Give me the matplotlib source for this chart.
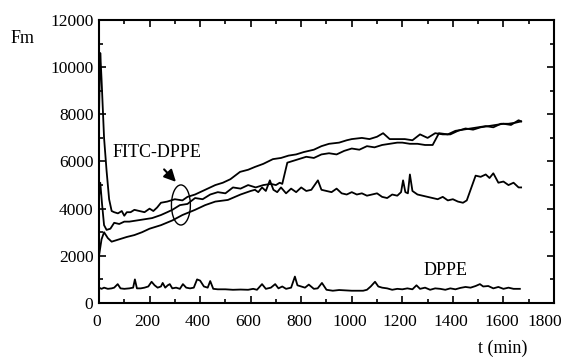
import matplotlib
matplotlib.use("Agg")
import matplotlib.pyplot as plt
from matplotlib.patches import Ellipse
from matplotlib.ticker import MultipleLocator
from matplotlib.transforms import ScaledTranslation

plt.rcParams['font.family'] = ['Liberation Serif', 'DejaVu Serif']

# FITC-DPPE, curve with big initial spike
t1 = [0, 5, 10, 20, 30, 40, 50, 60, 75, 90, 100, 110, 125, 140, 160, 180, 200, 215, 230, 245, 270, 300,
      330, 350, 380, 410, 440, 460, 490, 520, 558, 590, 617, 650, 688, 720, 750, 780, 810, 850, 880, 910,
      950, 980, 1000, 1040, 1070, 1100, 1124, 1150, 1180, 1210, 1240, 1270, 1300, 1330, 1360, 1390, 1420,
      1450, 1480, 1510, 1540, 1570, 1600, 1630, 1660, 1670]
y1 = [8000, 10600, 9500, 7000, 5600, 4400, 3900, 3850, 3800, 3900, 3700, 3850, 3850, 3950, 3900, 3850, 4000,
      3900, 4050, 4250, 4300, 4400, 4350, 4500, 4600, 4750, 4900, 5000, 5100, 5250, 5560, 5650, 5770, 5900,
      6100, 6150, 6250, 6300, 6400, 6500, 6650, 6750, 6800, 6900, 6950, 7000, 6950, 7050, 7200, 6950, 6950,
      6950, 6900, 7150, 7000, 7200, 7150, 7150, 7300, 7400, 7350, 7450, 7500, 7550, 7600, 7550, 7750, 7700]

# FITC-DPPE, curve with step near 730 min
t2 = [0, 5, 12, 20, 30, 45, 60, 80, 100, 120, 150, 180, 210, 245, 270, 290, 320, 350, 380, 410, 440, 470,
      500, 530, 560, 590, 620, 650, 680, 700, 715, 725, 735, 745, 760, 790, 820, 850, 880, 910, 940, 970,
      1000, 1030, 1060, 1090, 1120, 1150, 1180, 1200, 1230, 1260, 1290, 1320, 1335, 1345, 1380, 1410, 1440,
      1470, 1500, 1530, 1560, 1590, 1620, 1650, 1670]
y2 = [4500, 5100, 4200, 3300, 3100, 3150, 3400, 3350, 3450, 3450, 3500, 3550, 3600, 3730, 3850, 3950, 4150,
      4200, 4450, 4400, 4600, 4700, 4650, 4900, 4850, 5000, 4900, 5000, 5050, 5000, 5100, 5050, 5500, 5950,
      6000, 6100, 6200, 6150, 6300, 6350, 6300, 6450, 6550, 6500, 6650, 6600, 6700, 6750, 6800, 6800, 6750,
      6750, 6700, 6700, 7000, 7200, 7150, 7300, 7350, 7400, 7450, 7500, 7450, 7600, 7600, 7650, 7700]

# FITC-DPPE, curve starting at 2000, flat then step near 1470 min
t3 = [0, 10, 20, 35, 50, 80, 110, 140, 170, 200, 245, 290, 330, 380, 420, 460, 510, 560, 600, 617, 630,
      645, 660, 676, 690, 705, 720, 740, 760, 780, 800, 820, 840, 866, 880, 900, 920, 940, 960, 980, 1000,
      1020, 1040, 1060, 1080, 1100, 1120, 1140, 1160, 1180, 1195, 1203, 1212, 1222, 1230, 1240, 1260, 1280,
      1300, 1320, 1340, 1360, 1380, 1400, 1420, 1440, 1455, 1470, 1490, 1510, 1530, 1545, 1560, 1580, 1600,
      1620, 1640, 1660, 1670]
y3 = [2000, 2700, 3000, 2750, 2600, 2700, 2800, 2880, 3000, 3150, 3300, 3500, 3730, 3950, 4150, 4300, 4370,
      4600, 4750, 4800, 4700, 4900, 4750, 5200, 4800, 4700, 4900, 4650, 4850, 4700, 4900, 4750, 4800, 5200,
      4800, 4750, 4700, 4850, 4650, 4600, 4700, 4600, 4650, 4550, 4600, 4650, 4500, 4450, 4600, 4550, 4700,
      5200, 4700, 4650, 5450, 4750, 4600, 4550, 4500, 4450, 4400, 4500, 4350, 4400, 4300, 4250, 4350, 4800,
      5400, 5350, 5450, 5300, 5500, 5100, 5150, 5000, 5100, 4900, 4900]

# DPPE
t4 = [0, 10, 20, 35, 50, 60, 74, 85, 100, 120, 135, 142, 150, 165, 180, 195, 208, 220, 232, 245, 252, 262,
      272, 280, 290, 305, 320, 332, 345, 360, 375, 388, 400, 415, 430, 440, 452, 470, 500, 530, 560, 590,
      610, 625, 645, 660, 680, 697, 710, 725, 740, 760, 775, 785, 800, 815, 830, 850, 865, 882, 900, 925,
      950, 1000, 1045, 1060, 1075, 1092, 1105, 1120, 1140, 1160, 1180, 1200, 1220, 1240, 1256, 1270, 1290,
      1310, 1330, 1350, 1370, 1390, 1410, 1430, 1450, 1470, 1490, 1507, 1520, 1540, 1560, 1580, 1600, 1620,
      1640, 1653, 1665]
y4 = [650, 600, 650, 600, 620, 650, 800, 620, 600, 620, 650, 1000, 620, 620, 650, 700, 900, 750, 650, 700,
      850, 650, 750, 800, 620, 650, 600, 800, 650, 620, 650, 1000, 950, 700, 650, 930, 600, 580, 580, 560,
      570, 560, 600, 560, 800, 600, 650, 800, 620, 700, 600, 650, 1120, 750, 700, 650, 780, 600, 620, 850,
      560, 520, 550, 520, 520, 560, 700, 900, 700, 650, 620, 560, 600, 580, 620, 580, 750, 600, 650, 560,
      620, 600, 560, 620, 580, 640, 680, 650, 720, 800, 700, 720, 620, 680, 600, 650, 600, 600, 600]

x_ticks = [0, 200, 400, 600, 800, 1000, 1200, 1400, 1600, 1800]
y_ticks = [0, 2000, 4000, 6000, 8000, 10000, 12000]

fig = plt.figure(figsize=(5.69, 3.61), dpi=100)
ax = fig.add_axes([0.174, 0.1607, 0.7996, 0.7839])

for t, y in [(t1, y1), (t2, y2), (t3, y3), (t4, y4)]:
    ax.plot(t, y, color='black', lw=1.3)

ax.set_xlim(0, 1800)
ax.set_ylim(0, 12000)
ax.set_xticks(x_ticks)
ax.set_yticks(y_ticks)
ax.xaxis.set_minor_locator(MultipleLocator(100))
ax.yaxis.set_minor_locator(MultipleLocator(1000))
ax.tick_params(which='both', direction='in', top=True, right=True, labelsize=12.5, width=1.2)
ax.tick_params(axis='x', which='major', pad=8)
ax.tick_params(axis='y', which='major', pad=4)
ax.tick_params(which='major', length=5)
ax.tick_params(which='minor', length=3)
for s in ax.spines.values():
    s.set_linewidth(1.5)

# shift x tick labels slightly left as in the reference (last one more, to stay inside)
major = ax.xaxis.get_major_ticks()
for i, tk in enumerate(major):
    dx = -2 if i < len(major) - 1 else -9
    tk.label1.set_transform(tk.label1.get_transform() + ScaledTranslation(dx / 100, 0, fig.dpi_scale_trans))

ax.text(231, 6400, 'FITC-DPPE', fontsize=13, ha='center', va='center')
ax.text(1369, 1360, 'DPPE', fontsize=13, ha='center', va='center')
ax.annotate('', xy=(312, 5050), xytext=(250, 5750),
            arrowprops=dict(arrowstyle='-|>,head_length=0.7,head_width=0.35', color='black', lw=1.5))
ax.add_patch(Ellipse((324, 4156), 75, 1700, fill=False, edgecolor='black', lw=1.0))

fig.text(0.040, 0.892, 'Fm', fontsize=13, ha='center', va='center')
fig.text(0.884, 0.036, 't (min)', fontsize=13, ha='center', va='center')

fig.savefig('out.png', dpi=100)
